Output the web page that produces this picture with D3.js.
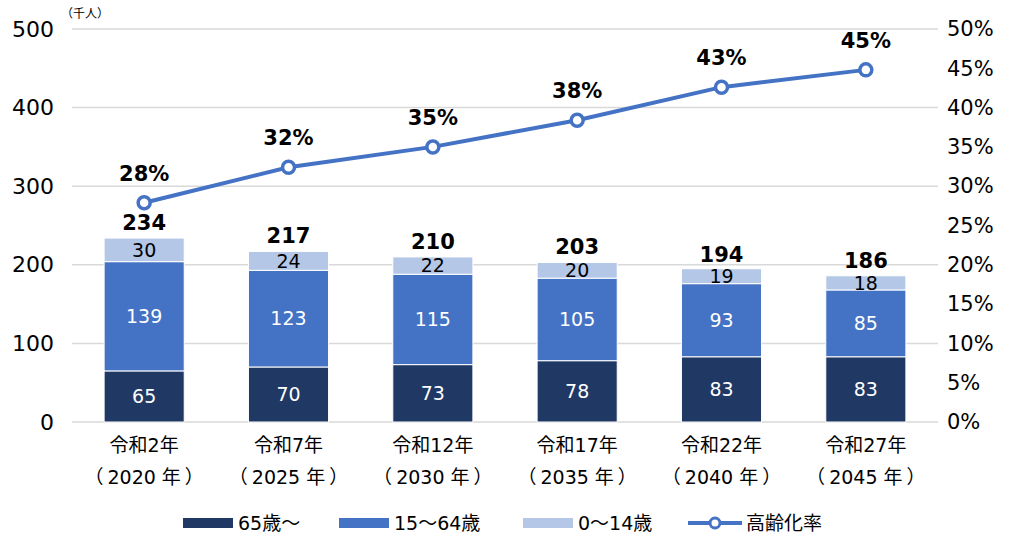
<!DOCTYPE html>
<html>
<head>
<meta charset="utf-8">
<script src="https://cdn.jsdelivr.net/npm/d3@7"></script>
<style>
  body { margin: 0; background: #fff; }
  svg text { font-family: "DejaVu Sans", "Noto Sans CJK JP", sans-serif; }
</style>
</head>
<body>
<div id="chart"></div>
<script>
// chart data
const years = ["令和2年", "令和7年", "令和12年", "令和17年", "令和22年", "令和27年"];
const westernYears = ["2020 年", "2025 年", "2030 年", "2035 年", "2040 年", "2045 年"];
const age65 = [65, 70, 73, 78, 83, 83];
const age15to64 = [139, 123, 115, 105, 93, 85];
const age0to14 = [30, 24, 22, 20, 19, 18];
const totals = [234, 217, 210, 203, 194, 186];
const agingRate = [0.279, 0.324, 0.350, 0.384, 0.426, 0.448];
const seriesNames = ["65歳～", "15～64歳", "0～14歳"];
const lineName = "高齢化率";

const width = 1009;
const height = 538;
const margin = {left: 72, right: 71, top: 29, bottom: 116};
const colors = ["#203864", "#4472C4", "#B4C7E7"];
const lineColor = "#4472C4";
const font = "'DejaVu Sans', 'Noto Sans CJK JP', sans-serif";

const svg = d3.select("#chart")
  .append("svg")
  .attr("width", width)
  .attr("height", height);

// scales
const xScale = d3.scaleBand()
  .domain(d3.range(years.length))
  .range([margin.left, width - margin.right])
  .paddingInner(0.445)
  .paddingOuter(0.2225);

const yScale = d3.scaleLinear()
  .domain([0, 500])
  .range([height - margin.bottom, margin.top]);

const yScale2 = d3.scaleLinear()
  .domain([0, 0.5])
  .range([height - margin.bottom, margin.top]);

// gridlines
svg.append("g")
  .selectAll("line")
  .data(yScale.ticks(5))
  .enter()
  .append("line")
    .attr("x1", margin.left)
    .attr("x2", width - margin.right)
    .attr("y1", d => yScale(d))
    .attr("y2", d => yScale(d))
    .attr("stroke", "#d9d9d9")
    .attr("stroke-width", 1.5);

// left axis
const leftAxis = svg.append("g")
  .attr("transform", `translate(${margin.left}, 0)`)
  .call(d3.axisLeft(yScale).ticks(5).tickSize(0).tickPadding(18));
leftAxis.select(".domain").remove();
leftAxis.selectAll("text")
  .attr("font-size", "22px")
  .attr("fill", "#000")
  .style("font-family", font);

// right axis
const rightAxis = svg.append("g")
  .attr("transform", `translate(${width - margin.right}, 0)`)
  .call(d3.axisRight(yScale2).ticks(10).tickFormat(d3.format(".0%")).tickSize(0).tickPadding(9));
rightAxis.select(".domain").remove();
rightAxis.selectAll("text")
  .attr("font-size", "21px")
  .attr("fill", "#000")
  .style("font-family", font);

// unit label
svg.append("text")
  .attr("x", 61)
  .attr("y", 18)
  .attr("font-size", "12px")
  .text("（千人）");

// stacked bars
const table = years.map((y, i) => ({i: i, a: age65[i], b: age15to64[i], c: age0to14[i]}));
const stacked = d3.stack().keys(["a", "b", "c"])(table);

stacked.forEach((layer, k) => {
  const g = svg.append("g");
  g.selectAll("rect")
    .data(layer)
    .enter()
    .append("rect")
      .attr("x", d => xScale(d.data.i))
      .attr("y", d => yScale(d[1]))
      .attr("width", xScale.bandwidth())
      .attr("height", d => yScale(d[0]) - yScale(d[1]))
      .attr("fill", colors[k])
      .attr("stroke", "#fff")
      .attr("stroke-width", 1);
  g.selectAll("text")
    .data(layer)
    .enter()
    .append("text")
      .attr("x", d => xScale(d.data.i) + xScale.bandwidth() / 2)
      .attr("y", d => (yScale(d[0]) + yScale(d[1])) / 2)
      .attr("dy", "0.36em")
      .attr("text-anchor", "middle")
      .attr("font-size", "19px")
      .attr("fill", k == 2 ? "#000" : "#fff")
      .text(d => d[1] - d[0]);
});

// totals
svg.append("g")
  .selectAll("text")
  .data(totals)
  .enter()
  .append("text")
    .attr("x", (d, i) => xScale(i) + xScale.bandwidth() / 2)
    .attr("y", d => yScale(d) - 8)
    .attr("text-anchor", "middle")
    .attr("font-size", "21px")
    .attr("font-weight", "bold")
    .text(d => d);

// aging rate line
const cx = i => xScale(i) + xScale.bandwidth() / 2;
svg.append("path")
  .datum(agingRate)
  .attr("fill", "none")
  .attr("stroke", lineColor)
  .attr("stroke-width", 4)
  .attr("d", d3.line().x((d, i) => cx(i)).y(d => yScale2(d)));

svg.append("g")
  .selectAll("circle")
  .data(agingRate)
  .enter()
  .append("circle")
    .attr("cx", (d, i) => cx(i))
    .attr("cy", d => yScale2(d))
    .attr("r", 6)
    .attr("fill", "#fff")
    .attr("stroke", lineColor)
    .attr("stroke-width", 3.5);

svg.append("g")
  .selectAll("text")
  .data(agingRate)
  .enter()
  .append("text")
    .attr("x", (d, i) => cx(i))
    .attr("y", d => yScale2(d) - 22)
    .attr("text-anchor", "middle")
    .attr("font-size", "21px")
    .attr("font-weight", "bold")
    .text(d => d3.format(".0%")(d));

// category labels (second line wrapped in full-width brackets)
const xLabels = svg.append("g");
years.forEach((y, i) => {
  xLabels.append("text")
    .attr("x", cx(i))
    .attr("y", 452)
    .attr("text-anchor", "middle")
    .attr("font-size", "19px")
    .text(y);
  const t = xLabels.append("text")
    .attr("x", cx(i))
    .attr("y", 484)
    .attr("text-anchor", "middle")
    .attr("font-size", "19px");
  t.append("tspan").text("（");
  t.append("tspan").attr("dx", 4).text(westernYears[i]);
  t.append("tspan").attr("dx", 4).text("）");
});

// legend
const legendY = 523;
const legendX = [183, 339, 523];
seriesNames.forEach((name, k) => {
  svg.append("rect")
    .attr("x", legendX[k])
    .attr("y", legendY - 5)
    .attr("width", 50)
    .attr("height", 10)
    .attr("fill", colors[k]);
  svg.append("text")
    .attr("x", legendX[k] + 55)
    .attr("y", legendY)
    .attr("dy", "0.36em")
    .attr("font-size", "19px")
    .text(name);
});
svg.append("line")
  .attr("x1", 688)
  .attr("x2", 742)
  .attr("y1", legendY)
  .attr("y2", legendY)
  .attr("stroke", lineColor)
  .attr("stroke-width", 4);
svg.append("circle")
  .attr("cx", 715)
  .attr("cy", legendY)
  .attr("r", 5)
  .attr("fill", "#fff")
  .attr("stroke", lineColor)
  .attr("stroke-width", 3);
svg.append("text")
  .attr("x", 746)
  .attr("y", legendY)
  .attr("dy", "0.36em")
  .attr("font-size", "19px")
  .text(lineName);
</script>
</body>
</html>
